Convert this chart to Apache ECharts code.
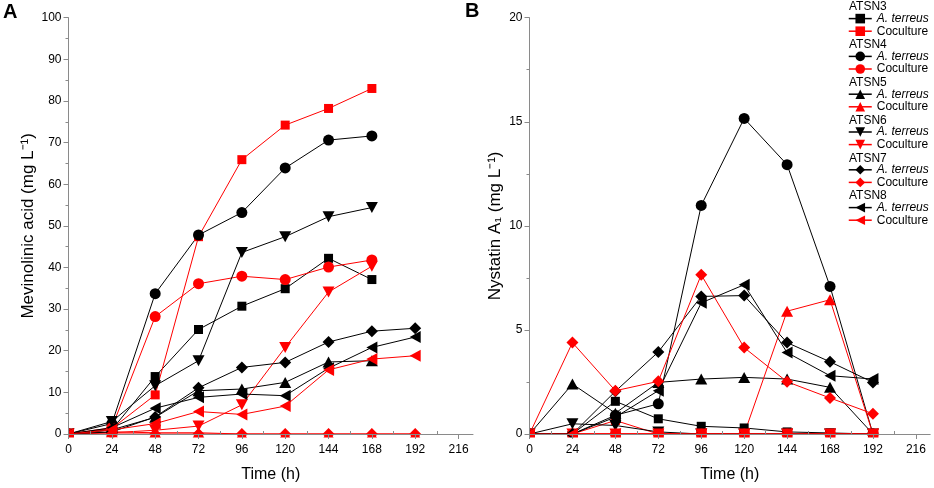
<!DOCTYPE html>
<html><head><meta charset="utf-8">
<script src="https://cdn.jsdelivr.net/npm/echarts@6/dist/echarts.min.js"></script>
<style>html,body{margin:0;padding:0;background:#fff}#c{width:934px;height:488px}</style>
</head><body><div id="c"></div>
<script>
// ---------- data ----------
const time = [0, 24, 48, 72, 96, 120, 144, 168, 192];
const xTickLabels = [0, 24, 48, 72, 96, 120, 144, 168, 192, 216];
const strains = ['ATSN3', 'ATSN4', 'ATSN5', 'ATSN6', 'ATSN7', 'ATSN8'];
const conditions = ['A. terreus', 'Coculture'];

// Panel A: Mevinolinic acid (mg/L)
const mevATSN3_terreus = [0, 1.0, 13.8, 25.1, 30.7, 34.9, 42.2, 37.1];
const mevATSN3_cocult  = [0, 1.3, 9.4, 47.4, 65.9, 74.2, 78.2, 83.0];
const mevATSN4_terreus = [0, 2.5, 33.7, 47.8, 53.2, 63.9, 70.6, 71.6];
const mevATSN4_cocult  = [0, 1.5, 28.2, 36.1, 37.9, 37.1, 40.1, 41.8];
const mevATSN5_terreus = [0, 1.0, 4.0, 10.4, 10.8, 12.4, 17.3, 17.6];
const mevATSN5_cocult  = [0, 0.5, 0.3, 0.3, 0, 0, 0, 0, 0];
const mevATSN6_terreus = [0, 3.0, 11.6, 17.6, 43.6, 47.4, 52.2, 54.4];
const mevATSN6_cocult  = [0, 0.3, 0.9, 1.9, 7.0, 20.8, 34.1, 40.3];
const mevATSN7_terreus = [0, 0.5, 4.1, 11.1, 16.0, 17.2, 22.1, 24.7, 25.4];
const mevATSN7_cocult  = [0, 0, 0, 0, 0, 0, 0, 0, 0];
const mevATSN8_terreus = [0, 1.5, 6.2, 8.8, 9.6, 9.2, 15.8, 20.8, 23.3];
const mevATSN8_cocult  = [0, 1.0, 2.5, 5.4, 4.7, 6.7, 15.4, 18.0, 18.8];

// Panel B: Nystatin A1 (mg/L)
const nysATSN3_terreus = [0, 0, 1.57, 0.73, 0.37, 0.29, 0.1, 0.05, 0];
const nysATSN3_cocult  = [0, 0, 0.65, 0, 0, 0, 0, 0, 0];
const nysATSN4_terreus = [0, 0, 0.9, 1.45, 10.98, 15.16, 12.94, 7.09, 0];
const nysATSN4_cocult  = [0, 0, 0, 0, 0, 0, 0, 0, 0];
const nysATSN5_terreus = [0, 2.40, 1.0, 2.48, 2.64, 2.72, 2.64, 2.24, 0];
const nysATSN5_cocult  = [0, 0, 0, 0, 0, 0, 5.9, 6.45, 0];
const nysATSN6_terreus = [0, 0.49, 0.41, 0.1, 0, 0, 0, 0, 0];
const nysATSN6_cocult  = [0, 0, 0, 0, 0, 0, 0, 0, 0];
const nysATSN7_terreus = [0, 0, 2.05, 3.94, 6.61, 6.65, 4.39, 3.47, 2.48];
const nysATSN7_cocult  = [0, 4.39, 2.08, 2.53, 7.65, 4.15, 2.51, 1.73, 0.97];
const nysATSN8_terreus = [0, 0, 0.81, 2.08, 6.3, 7.17, 3.91, 2.80, 2.64];
const nysATSN8_cocult  = [0, 0, 0, 0, 0, 0, 0, 0, 0];

const mevData = [
  [mevATSN3_terreus, mevATSN3_cocult], [mevATSN4_terreus, mevATSN4_cocult],
  [mevATSN5_terreus, mevATSN5_cocult], [mevATSN6_terreus, mevATSN6_cocult],
  [mevATSN7_terreus, mevATSN7_cocult], [mevATSN8_terreus, mevATSN8_cocult]
];
const nysData = [
  [nysATSN3_terreus, nysATSN3_cocult], [nysATSN4_terreus, nysATSN4_cocult],
  [nysATSN5_terreus, nysATSN5_cocult], [nysATSN6_terreus, nysATSN6_cocult],
  [nysATSN7_terreus, nysATSN7_cocult], [nysATSN8_terreus, nysATSN8_cocult]
];

// ---------- style ----------
const FONT = "'Liberation Sans', Arial, sans-serif";
const AXIS_COLOR = '#8a8a8a';
const colors = ['#000000', '#ff0000'];
const symbolDefs = [
  { symbol: 'rect', size: 9, rotate: 0 },
  { symbol: 'circle', size: 11, rotate: 0 },
  { symbol: 'triangle', size: [12, 11], rotate: 0 },
  { symbol: 'triangle', size: [12, 11], rotate: 180 },
  { symbol: 'diamond', size: 12, rotate: 0 },
  { symbol: 'triangle', size: [12, 11], rotate: 90 }
];
const minorX = [];
for (let v = 12; v < 216; v += 24) minorX.push(v);

const grids = [
  { left: 68.5, top: 17.7, width: 404.5, height: 419.3 },
  { left: 529.5, top: 17.7, width: 400.7, height: 419.3 }
];

const series = [];
[mevData, nysData].forEach((panel, g) => {
  panel.forEach((pair, i) => {
    pair.forEach((vals, j) => {
      const sd = symbolDefs[i];
      series.push({
        type: 'line',
        name: strains[i] + ' ' + conditions[j],
        xAxisIndex: g, yAxisIndex: g,
        data: vals.map((v, k) => [time[k], v]),
        symbol: sd.symbol, symbolSize: sd.size, symbolRotate: sd.rotate,
        showAllSymbol: true,
        lineStyle: { color: colors[j], width: 1 },
        itemStyle: { color: colors[j] },
        emphasis: { disabled: true },
        clip: false, z: 2
      });
    });
  });
});

function mainX(g) {
  return {
    gridIndex: g, type: 'value', min: 0, max: 224, interval: 24, z: 5,
    splitLine: { show: false },
    axisLine: { show: true, onZero: false, lineStyle: { color: AXIS_COLOR, width: 1 } },
    axisTick: { show: true, customValues: xTickLabels, length: 5, lineStyle: { color: AXIS_COLOR } },
    axisLabel: { customValues: xTickLabels, color: '#000', fontSize: 12, fontFamily: FONT, margin: 10 },
    name: 'Time (h)', nameLocation: 'middle', nameGap: 33,
    nameTextStyle: { color: '#000', fontSize: 16, fontFamily: FONT }
  };
}
function minorXAxis(g) {
  return {
    gridIndex: g, type: 'value', min: 0, max: 224, interval: 12, z: 5,
    splitLine: { show: false }, axisLine: { show: false },
    axisLabel: { show: false },
    axisTick: { show: true, customValues: minorX, length: 3, lineStyle: { color: AXIS_COLOR } }
  };
}
function yAx(g, max, interval, name, gap) {
  return {
    gridIndex: g, type: 'value', min: 0, max: max, interval: interval, z: 5,
    splitLine: { show: false },
    axisLine: { show: true, onZero: false, lineStyle: { color: AXIS_COLOR, width: 1 } },
    axisTick: { show: true, length: 5, lineStyle: { color: AXIS_COLOR } },
    minorTick: { show: true, splitNumber: 2, length: 3, lineStyle: { color: AXIS_COLOR } },
    axisLabel: { color: '#000', fontSize: 12, fontFamily: FONT, margin: 7 },
    name: name, nameLocation: 'middle', nameGap: gap, nameRotate: 90,
    nameTextStyle: { color: '#000', fontSize: 17, fontFamily: FONT }
  };
}

// legends: one per strain, with a header text
const legends = [];
const graphics = [];
strains.forEach((s, i) => {
  const headY = 6 + i * 37.8;
  graphics.push({
    type: 'text', left: 849, top: headY - 5, z: 10,
    style: { text: s, font: '12px ' + FONT, fill: '#000' }
  });
  legends.push({
    orient: 'vertical', left: 848, top: headY + 12.6 - 6, padding: 0,
    itemWidth: 23, itemHeight: 12, itemGap: 0.6,
    data: conditions.map(c => s + ' ' + c),
    formatter: n => n.indexOf('terreus') > -1 ? '{i|A. terreus}' : 'Coculture',
    itemStyle: {},
    lineStyle: { width: 1.5 },
    textStyle: { color: '#000', fontSize: 12, fontFamily: FONT, rich: { i: { fontStyle: 'italic', fontSize: 12, fontFamily: FONT, color: '#000' } } },
    selectedMode: false
  });
});

// masks emulate clipping of marks at the frame (z between series and axes)
grids.forEach(gr => {
  const bottom = gr.top + gr.height;
  graphics.push({ type: 'rect', z: 3, silent: true,
    shape: { x: gr.left - 14, y: gr.top - 10, width: 13.5, height: gr.height + 24 },
    style: { fill: '#fff' } });
  graphics.push({ type: 'rect', z: 3, silent: true,
    shape: { x: gr.left - 14, y: bottom + 0.5, width: gr.width + 20, height: 9 },
    style: { fill: '#fff' } });
});
// panel letters
graphics.push({ type: 'text', left: 3, top: 2, z: 10, style: { text: 'A', font: 'bold 20px ' + FONT, fill: '#000' } });
graphics.push({ type: 'text', left: 465, top: 1, z: 10, style: { text: 'B', font: 'bold 20px ' + FONT, fill: '#000' } });

const chart = echarts.init(document.getElementById('c'), null, { renderer: 'canvas' });
chart.setOption({
  animation: false,
  backgroundColor: '#fff',
  grid: grids,
  xAxis: [mainX(0), mainX(1), minorXAxis(0), minorXAxis(1)],
  yAxis: [
    yAx(0, 100, 10, 'Mevinolinic acid (mg L⁻¹)', 32),
    yAx(1, 20, 5, 'Nystatin A₁ (mg L⁻¹)', 26)
  ],
  legend: legends,
  graphic: graphics,
  series: series
});
</script></body></html>
